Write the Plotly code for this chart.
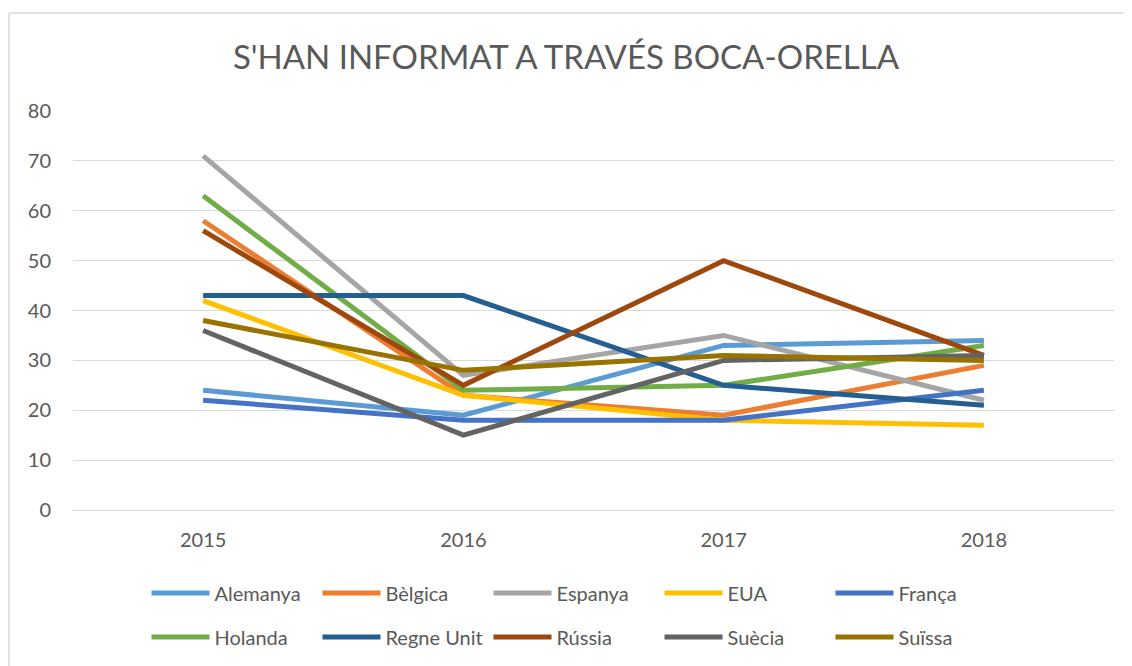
import plotly.graph_objects as go

years = ["2015", "2016", "2017", "2018"]

alemanya = [24, 19, 33, 34]
belgica = [58, 23, 19, 29]
espanya = [71, 27, 35, 22]
eua = [42, 23, 18, 17]
franca = [22, 18, 18, 24]
holanda = [63, 24, 25, 33]
regne_unit = [43, 43, 25, 21]
russia = [56, 25, 50, 31]
suecia = [36, 15, 30, 31]
suissa = [38, 28, 31, 30]

series = [
    ("Alemanya", alemanya, "#5B9BD5"),
    ("Bèlgica", belgica, "#ED7D31"),
    ("Espanya", espanya, "#A5A5A5"),
    ("EUA", eua, "#FFC000"),
    ("França", franca, "#4472C4"),
    ("Holanda", holanda, "#70AD47"),
    ("Regne Unit", regne_unit, "#255E91"),
    ("Rússia", russia, "#9E480E"),
    ("Suècia", suecia, "#636363"),
    ("Suïssa", suissa, "#997300"),
]

fig = go.Figure()
for i, (name, vals, col) in enumerate(series):
    fig.add_trace(go.Scatter(
        x=years, y=vals, name=name, mode="lines",
        line=dict(color=col, width=5),
        legend="legend" if i < 5 else "legend2",
    ))

font = dict(family="Lato, 'Open Sans', sans-serif", size=20, color="#595959")

legend_common = dict(
    orientation="h", xanchor="left", yanchor="middle",
    itemwidth=58, entrywidth=98, entrywidthmode="pixels",
    font=font, bgcolor="rgba(0,0,0,0)", traceorder="normal",
)

# page body has an 8px margin, so margins are shifted to compensate
fig.update_layout(
    width=1132, height=666,
    margin=dict(l=65, r=26, t=103, b=164),
    paper_bgcolor="white", plot_bgcolor="white",
    font=font,
    title=dict(text="S'HAN INFORMAT A TRAVÉS BOCA-ORELLA", x=(566 - 8) / 1132, xanchor="center",
               y=1 - 49 / 666, yanchor="middle",
               font=dict(family="Lato, 'Open Sans', sans-serif", size=33, color="#595959")),
    legend=dict(x=0.0706, y=-0.208, **legend_common),
    legend2=dict(x=0.0706, y=-0.318, **legend_common),
    xaxis=dict(type="category", range=[-0.5, 3.5], showgrid=False, showline=False,
               ticks="", ticklabelstandoff=16, tickfont=font),
    yaxis=dict(range=[0, 80], dtick=10, showgrid=True, gridcolor="#D9D9D9", gridwidth=1,
               zeroline=True, zerolinecolor="#D9D9D9", zerolinewidth=1,
               showline=False, ticks="", ticklabelstandoff=21, tickfont=font),
    shapes=[
        dict(type="line", xref="paper", yref="paper", x0=-0.0615, x1=1.03,
             y0=1.2456, y1=1.2456, line=dict(color="#D9D9D9", width=1.5)),
        dict(type="line", xref="paper", yref="paper", x0=-0.0615, x1=-0.0615,
             y0=1.2456, y1=-0.45, line=dict(color="#D9D9D9", width=1.5)),
    ],
)

fig.write_html("out.html")
